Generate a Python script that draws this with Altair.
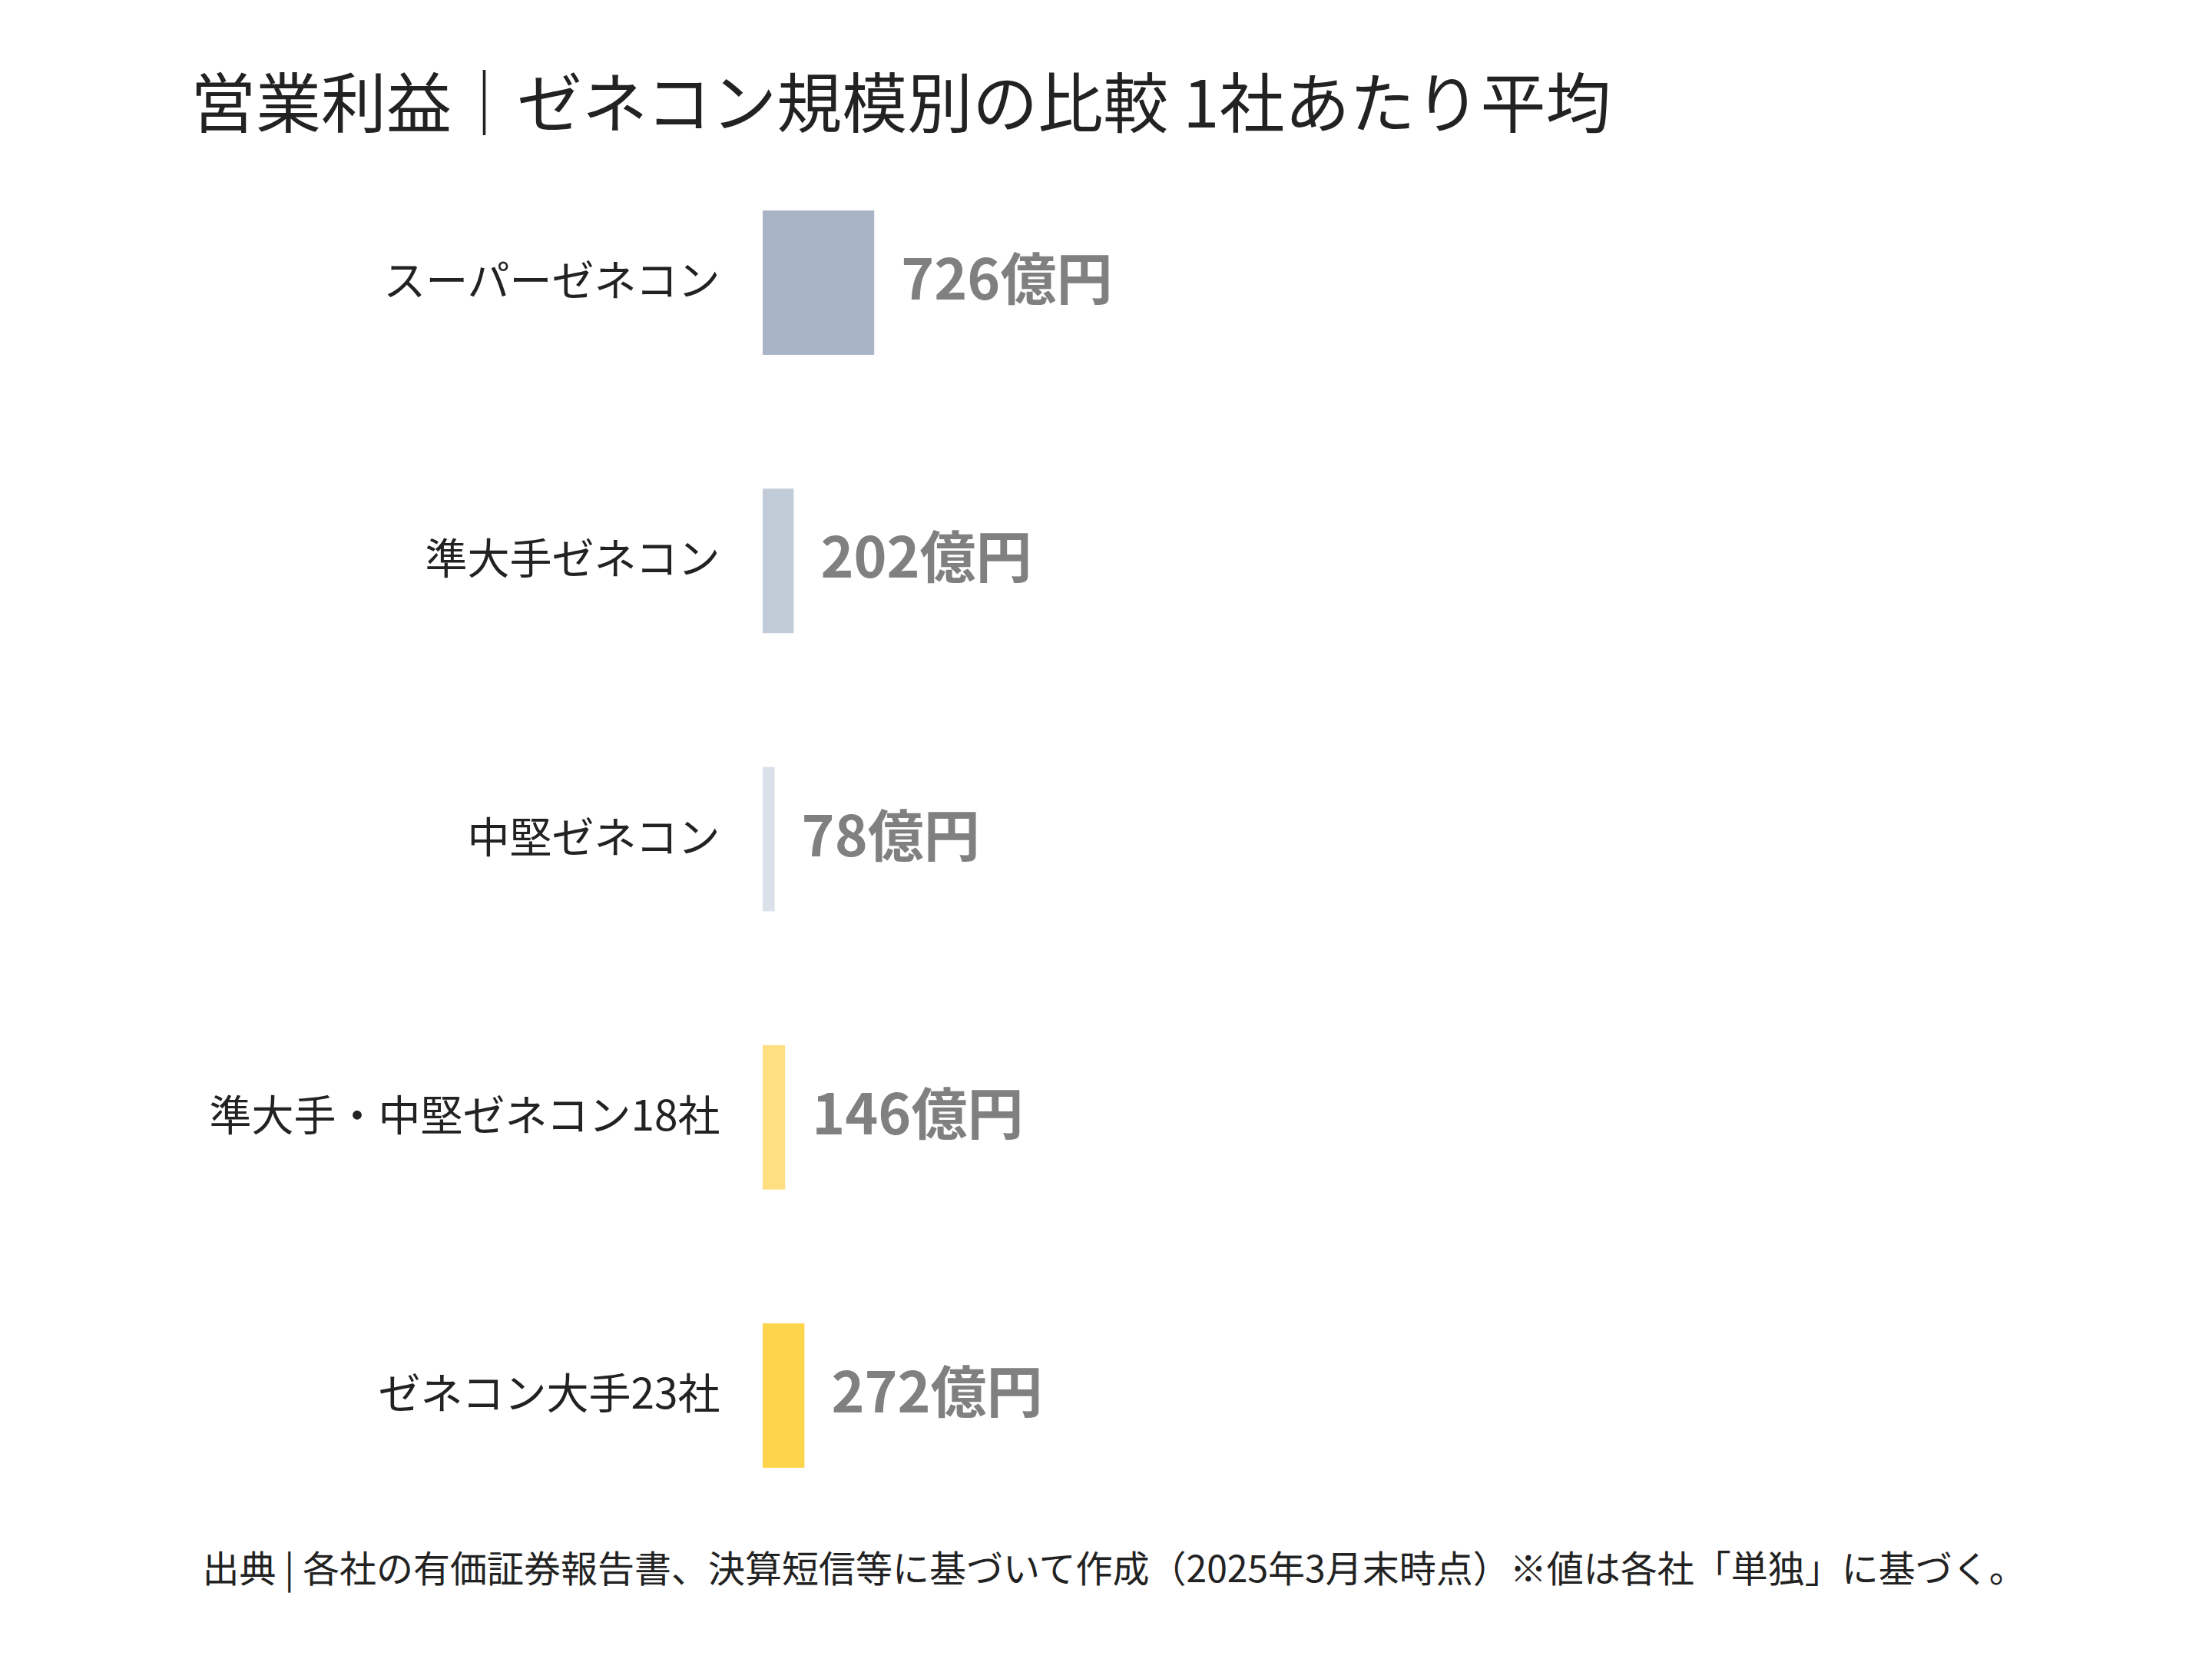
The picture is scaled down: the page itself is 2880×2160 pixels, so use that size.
import altair as alt
import pandas as pd

# ---- data ----
categories = ["スーパーゼネコン", "準大手ゼネコン", "中堅ゼネコン", "準大手・中堅ゼネコン18社", "ゼネコン大手23社"]
values = [726, 202, 78, 146, 272]
colors = ["#a9b5c7", "#c2ccd8", "#dbe1ea", "#ffdf82", "#fdd54c"]
unit = "億円"
title_text = "営業利益｜ゼネコン規模別の比較 1社あたり平均"
source_text = "出典 | 各社の有価証券報告書、決算短信等に基づいて作成（2025年3月末時点）※値は各社「単独」に基づく。"

df = pd.DataFrame({"cat": categories, "value": values})
df["label"] = [f"{v}{unit}" for v in values]

FONT = "Noto Sans CJK JP"

base = alt.Chart(df).encode(
    y=alt.Y(
        "cat:N",
        sort=categories,
        scale=alt.Scale(paddingInner=0.481, paddingOuter=0.2405),
        axis=alt.Axis(
            title=None, domain=False, ticks=False, grid=False,
            labelPadding=56, labelFontSize=55, labelFont=FONT,
            labelColor="#222222", labelLimit=1200,
        ),
    )
)

bars = base.mark_bar().encode(
    x=alt.X(
        "value:Q",
        scale=alt.Scale(domain=[0, 5000]),
        axis=alt.Axis(
            title=source_text, domain=False, ticks=False, labels=False, grid=False,
            titleFont=FONT, titleFontSize=48, titleFontWeight="normal",
            titleColor="#222222", titleAnchor="start", titleAlign="left",
            titleBaseline="middle", titleX=-730, titleY=47, titleLimit=3000,
        ),
    ),
    color=alt.Color("cat:N", scale=alt.Scale(domain=categories, range=colors), legend=None),
)

text = base.mark_text(
    align="left", baseline="middle", dx=35, font=FONT, fontSize=73,
    fontWeight="bold", color="#808080",
).encode(x="value:Q", text="label:N")

chart = (bars + text).properties(
    width=1000,
    height=1811,
    title=alt.TitleParams(
        text=title_text, font=FONT, fontSize=85, fontWeight="normal",
        color="#222222", anchor="start", frame="group", dx=-745, offset=3,
        limit=3000,
    ),
    padding={"left": 985, "top": 179, "right": 870, "bottom": 150},
    autosize=alt.AutoSizeParams(type="none"),
).configure_view(stroke=None)

chart.save("out.html", embed_options={"renderer": "svg", "actions": False})
